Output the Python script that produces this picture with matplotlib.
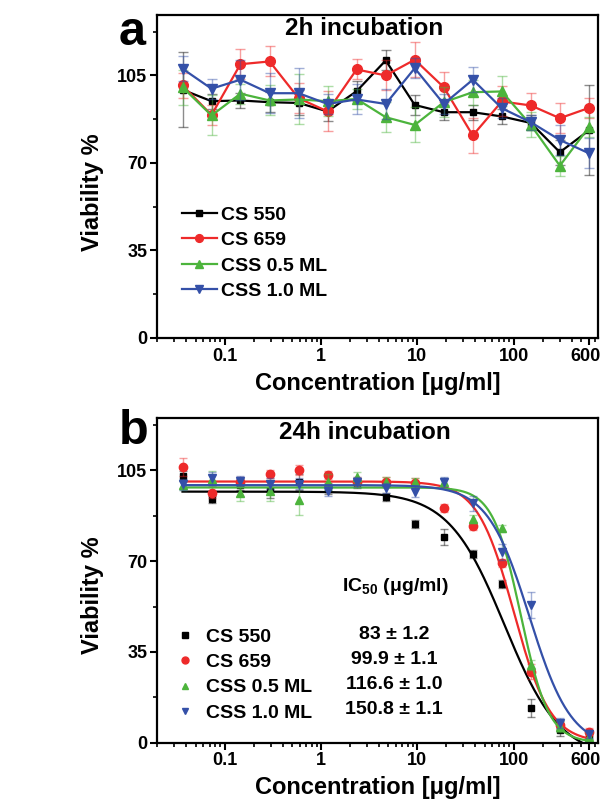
import numpy as np
import matplotlib.pyplot as plt
import matplotlib.transforms as mtrans
from matplotlib.lines import Line2D

plt.rcParams['font.family'] = ['Liberation Sans', 'DejaVu Sans']
plt.rcParams['font.weight'] = 'bold'
plt.rcParams['mathtext.fontset'] = 'custom'
plt.rcParams['mathtext.bf'] = 'Liberation Sans:bold'
plt.rcParams['mathtext.rm'] = 'Liberation Sans:bold'
plt.rcParams['mathtext.default'] = 'bf'

# 浓度 (两倍稀释, μg/ml)
conc = [0.0366, 0.0732, 0.146, 0.293, 0.586, 1.17, 2.34, 4.69, 9.38, 18.75, 37.5, 75, 150, 300, 600]
names = ['CS 550', 'CS 659', 'CSS 0.5 ML', 'CSS 1.0 ML']
colors = ['#000000', '#ee2a2a', '#4cb43c', '#3450a8']
markers = ['s', 'o', '^', 'v']
msizes = [5, 7, 7, 7]

# 2h
v2_cs550 = [99.3, 94.7, 95.0, 94.3, 94.0, 90.6, 98.7, 111.0, 93.2, 90.3, 90.3, 88.6, 86.0, 74.3, 83.0]
v2_cs659 = [101.0, 89.2, 109.5, 110.6, 95.9, 90.6, 107.4, 105.0, 111.3, 100.3, 81.0, 94.6, 93.0, 87.9, 92.0]
v2_css05 = [100.3, 89.0, 97.7, 95.0, 95.4, 94.7, 95.6, 88.3, 85.2, 94.3, 98.3, 98.6, 85.2, 68.9, 84.3]
v2_css10 = [107.7, 99.7, 103.3, 97.9, 97.9, 93.6, 95.4, 93.6, 107.9, 93.6, 103.3, 91.9, 86.3, 79.2, 73.9]
e2_cs550 = [15, 3, 3, 4, 5, 4, 4, 4, 4, 3, 3, 3, 3, 5, 18]
e2_cs659 = [5, 4, 6, 6, 6, 8, 4, 6, 7, 6, 7, 6, 5, 6, 4]
e2_css05 = [7, 8, 4, 6, 10, 6, 4, 6, 7, 6, 5, 6, 5, 4, 4]
e2_css10 = [5, 4, 8, 8, 10, 4, 6, 6, 4, 4, 5, 4, 3, 6, 6]

# 24h
v24_cs550 = [102.8, 93.8, 99.5, 97.5, 100.6, 98.0, 100.2, 94.6, 84.2, 79.4, 72.6, 61.2, 13.3, 4.9, 3.0]
v24_cs659 = [106.2, 96.4, 100.6, 103.6, 105.1, 103.2, 100.4, 100.6, 100.2, 90.6, 83.5, 69.4, 27.4, 6.8, 4.2]
v24_css05 = [99.3, 101.8, 96.1, 97.1, 93.6, 100.4, 102.3, 100.6, 100.6, 100.6, 86.1, 82.6, 30.0, 6.2, 2.3]
v24_css10 = [99.6, 101.9, 100.9, 99.9, 99.9, 97.1, 100.4, 98.1, 96.8, 100.6, 92.3, 73.6, 53.1, 7.5, 3.4]
e24_cs550 = [2, 1.5, 2, 3, 3, 2, 2, 1.5, 1.5, 3, 1.5, 1.5, 3.5, 2.5, 1.5]
e24_cs659 = [3.5, 2, 2, 1.5, 2, 1.5, 2, 2, 2, 1.5, 1.5, 1.5, 3, 1.5, 1.5]
e24_css05 = [2, 3, 3, 4, 6, 3, 2, 2, 1.5, 1.5, 1.5, 1.5, 2, 2, 1.5]
e24_css10 = [2, 2.5, 2, 2, 2, 2, 2, 2, 2, 2, 3, 3, 5, 2, 1.5]

# 拟合曲线参数 (top, bottom, x0, hill)
fit_top = [96.8, 100.7, 98.4, 99.3]
fit_bottom = [-6, 0, 0, -2]
fit_x0 = [80, 99.9, 118, 145]
fit_hill = [1.5, 2.3, 3.0, 2.0]
ic50_text = ['83 ± 1.2', '99.9 ± 1.1', '116.6 ± 1.0', '150.8 ± 1.1']

v2 = [v2_cs550, v2_cs659, v2_css05, v2_css10]
e2 = [e2_cs550, e2_cs659, e2_css05, e2_css10]
v24 = [v24_cs550, v24_cs659, v24_css05, v24_css10]
e24 = [e24_cs550, e24_cs659, e24_css05, e24_css10]


def style_axes(ax, ytop):
    ax.set_xscale('log')
    ax.set_xlim(0.02, 750)
    ax.set_ylim(0, ytop)
    ax.set_xticks([0.1, 1, 10, 100, 600])
    ax.set_xticklabels(['0.1', '1', '10', '100', '600'])
    ax.set_yticks([0, 35, 70, 105])
    ax.set_yticks([17.5, 52.5, 87.5, 122.5], minor=True)
    ax.tick_params(which='major', direction='out', length=5, width=1.5, labelsize=13, pad=2)
    ax.tick_params(which='minor', direction='out', length=3, width=1.2)
    for s in ax.spines.values():
        s.set_linewidth(1.6)
    ax.set_xlabel('Concentration [μg/ml]', fontsize=17, fontweight='bold', labelpad=5)
    ax.set_ylabel('Viability %', fontsize=17, fontweight='bold')
    # 600 标签稍微左移, 不被裁掉
    lab = ax.get_xticklabels()[-1]
    lab.set_transform(lab.get_transform() + mtrans.ScaledTranslation(-3 / 100, 0, fig.dpi_scale_trans))


fig = plt.figure(figsize=(6, 7.99), dpi=100)

# 图 a
ax1 = fig.add_axes([0.262, 0.577, 0.735, 0.4046])
for i in range(4):
    ax1.errorbar(conc, v2[i], yerr=e2[i], fmt='none', ecolor=colors[i], alpha=0.45,
                 elinewidth=1, capsize=3.5, capthick=1)
    ax1.plot(conc, v2[i], color=colors[i], marker=markers[i], markersize=msizes[i],
             linewidth=1.6, label=names[i])
style_axes(ax1, 129.3)
ax1.yaxis.set_label_coords(-0.12, 0.45)
ax1.text(0.47, 0.958, '2h incubation', transform=ax1.transAxes, ha='center', va='center',
         fontsize=17.5, fontweight='bold')
ax1.legend(loc='upper left', bbox_to_anchor=(0.025, 0.45), frameon=False, fontsize=14,
           handlelength=1.8, handletextpad=0.2, labelspacing=0.4, borderaxespad=0.3,
           markerscale=0.8)
fig.text(0.198, 0.944, 'a', fontsize=35, fontweight='bold')

# 图 b
ax2 = fig.add_axes([0.262, 0.0705, 0.735, 0.4064])
xs = np.logspace(np.log10(0.0366), np.log10(620), 400)
for i in range(4):
    ax2.errorbar(conc, v24[i], yerr=e24[i], fmt='none', ecolor=colors[i], alpha=0.45,
                 elinewidth=1, capsize=3, capthick=1)
    ax2.plot(conc, v24[i], linestyle='none', color=colors[i], marker=markers[i],
             markersize=msizes[i] - 1)
    ys = fit_bottom[i] + (fit_top[i] - fit_bottom[i]) / (1 + (xs / fit_x0[i]) ** fit_hill[i])
    ax2.plot(xs, ys, color=colors[i], linewidth=1.6)
style_axes(ax2, 125.2)
ax2.yaxis.set_label_coords(-0.12, 0.455)
ax2.text(0.47, 0.955, '24h incubation', transform=ax2.transAxes, ha='center', va='center',
         fontsize=17.5, fontweight='bold')
handles = [Line2D([], [], linestyle='none', color=colors[i], marker=markers[i], markersize=5)
           for i in range(4)]
ax2.legend(handles, names, loc='upper left', bbox_to_anchor=(0.0, 0.395), frameon=False,
           fontsize=14, handlelength=1.5, handletextpad=0.3, labelspacing=0.4, borderaxespad=0.3)
ax2.text(0.54, 0.48, 'IC$_{50}$ (μg/ml)', transform=ax2.transAxes, ha='center', va='center',
         fontsize=14, fontweight='bold')
for i in range(4):
    ax2.text(0.537, 0.333 - i * 0.077, ic50_text[i], transform=ax2.transAxes, ha='center',
             va='center', fontsize=14, fontweight='bold')
fig.text(0.198, 0.444, 'b', fontsize=35, fontweight='bold')

plt.savefig('out.png', dpi=100)
